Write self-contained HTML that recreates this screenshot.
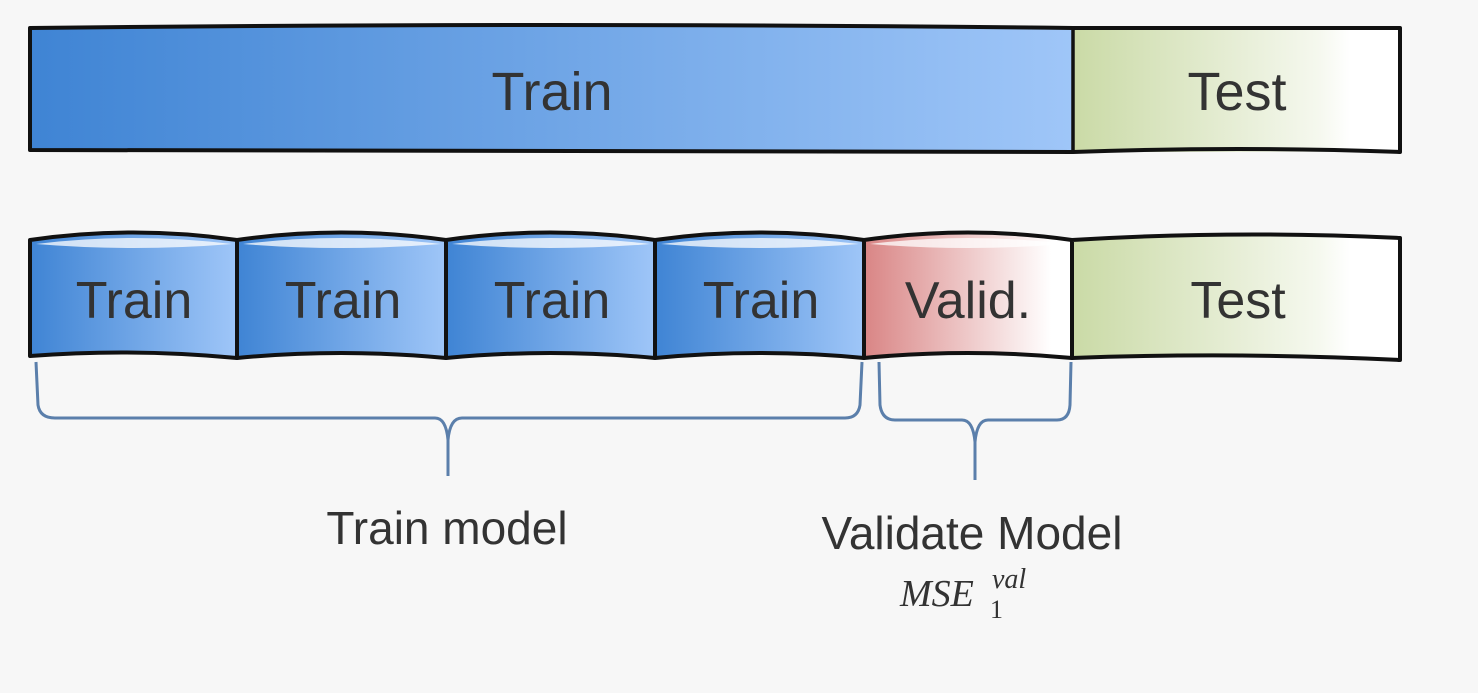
<!DOCTYPE html>
<html><head><meta charset="utf-8"><style>
html,body{margin:0;padding:0;background:#f7f7f7;}
svg{display:block;}
text{font-family:"Liberation Sans",sans-serif;fill:#333;}
</style></head><body>
<svg width="1478" height="693" viewBox="0 0 1478 693" xmlns="http://www.w3.org/2000/svg">
<defs>
<linearGradient id="blue" x1="0" x2="1" y1="0" y2="0"><stop offset="0" stop-color="#3f84d4"/><stop offset="1" stop-color="#9fc6f8"/></linearGradient>
<linearGradient id="green" x1="0" x2="1" y1="0" y2="0"><stop offset="0" stop-color="#cadaa6"/><stop offset="0.75" stop-color="#f5f8ee"/><stop offset="0.85" stop-color="#ffffff"/></linearGradient>
<linearGradient id="pink" x1="0" x2="1" y1="0" y2="0"><stop offset="0" stop-color="#d98585"/><stop offset="0.9" stop-color="#ffffff"/></linearGradient>
</defs>
<rect width="1478" height="693" fill="#f7f7f7"/>
<!-- top bar -->
<path d="M30 28 Q550 22 1073 28 L1073 152 Q550 150 30 150 Z" fill="url(#blue)"/>
<path d="M1073 28 L1400 28 L1400 152 L1073 152 Z" fill="url(#green)"/>
<path d="M30 28 Q550 22 1073 28 L1400 28 L1400 152 Q1240 146 1073 152 Q550 150 30 150 Z" fill="none" stroke="#111" stroke-width="4" stroke-linejoin="round"/>
<line x1="1073" y1="28" x2="1073" y2="152" stroke="#111" stroke-width="3.5"/>
<text x="552" y="110" font-size="54" text-anchor="middle">Train</text>
<text x="1237" y="110" font-size="54" text-anchor="middle">Test</text>
<!-- bottom row -->
<g stroke="#111" stroke-width="4" stroke-linejoin="round">
<path d="M30 240 Q133 225 237 240 L237 358 Q133 348 30 356 Z" fill="url(#blue)"/>
<path d="M237 240 Q341 225 446 240 L446 358 Q341 348 237 358 Z" fill="url(#blue)"/>
<path d="M446 240 Q550 225 655 240 L655 358 Q550 348 446 358 Z" fill="url(#blue)"/>
<path d="M655 240 Q760 225 864 240 L864 358 Q760 348 655 358 Z" fill="url(#blue)"/>
<path d="M864 240 Q968 225 1072 240 L1072 358 Q968 348 864 358 Z" fill="url(#pink)"/>
<path d="M1072 240 Q1236 230 1400 238 L1400 360 Q1236 352 1072 358 Z" fill="url(#green)"/>
</g>
<g fill="#fff" opacity="0.75">
<path d="M36 244 Q133 232 232 244 Q133 252 36 244 Z"/>
<path d="M243 244 Q341 232 441 244 Q341 252 243 244 Z"/>
<path d="M452 244 Q550 232 650 244 Q550 252 452 244 Z"/>
<path d="M661 244 Q760 232 859 244 Q760 252 661 244 Z"/>
<path d="M870 244 Q968 232 1067 244 Q968 252 870 244 Z"/>
</g>
<g font-size="52" text-anchor="middle">
<text x="134" y="318">Train</text>
<text x="343" y="318">Train</text>
<text x="552" y="318">Train</text>
<text x="761" y="318">Train</text>
<text x="968" y="318">Valid.</text>
<text x="1238" y="318">Test</text>
</g>
<!-- braces -->
<g fill="none" stroke="#5b7fab" stroke-width="3">
<path d="M36 362 L38 405 Q40 418 55 418 L435 418 Q446 418 448 440 L448 476 M448 440 Q450 418 462 418 L845 418 Q858 418 860 405 L862 362"/>
<path d="M879 362 L880 405 Q882 420 895 420 L962 420 Q973 420 975 442 L975 480 M975 442 Q977 420 988 420 L1057 420 Q1069 420 1070 405 L1071 362"/>
</g>
<text x="447" y="544" font-size="46" text-anchor="middle">Train model</text>
<text x="972" y="549" font-size="46" text-anchor="middle">Validate Model</text>
<text x="900" y="606" font-size="38" font-style="italic" style="font-family:'Liberation Serif',serif">MSE</text>
<text x="990" y="618" font-size="26" style="font-family:'Liberation Serif',serif">1</text>
<text x="992" y="588" font-size="28" font-style="italic" style="font-family:'Liberation Serif',serif">val</text>
</svg>
</body></html>
